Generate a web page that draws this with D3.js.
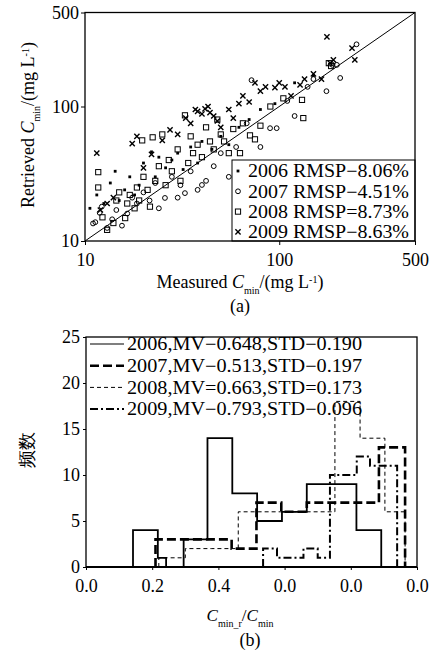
<!DOCTYPE html>
<html>
<head>
<meta charset="utf-8">
<script src="https://cdnjs.cloudflare.com/ajax/libs/d3/7.8.5/d3.min.js"></script>
<style>
body{margin:0;background:#fff;}
text{font-family:"Liberation Serif","Times New Roman",serif;fill:#000;}
</style>
</head>
<body>
<script>
// (a) scatter, [measured, retrieved] mg/L
var pts2006 = [[10.6,17.5],[11.5,22],[12.5,19],[13.5,27],[14.3,33],[15,20],[16,24],[17,30],[18,22],[19,26],
	[20,38],[22,46],[24,42],[23,30],[26,35],[28,40],[30,45],[32,34],[35,50],[38,38],[40,55],[45,48],
	[50,60],[55,52],[62,70],[70,80],[80,95],[95,105],[120,150],[150,170]];
var pts2007 = [[11,13.5],[11.3,13.8],[11.9,16.2],[12.2,18],[13,12.5],[13.8,14.5],[14.5,17],[15.5,13],[16.5,16],
	[17.5,21],[18.5,19],[20,23],[21.5,20],[23,27],[24,17.5],[25.8,20.9],[28,30],[30,21],[31,26],[32.7,22.7],
	[35,33],[38,24],[40,26.1],[42,28],[46,36],[50,45],[55,30],[60,50],[68,75],[72,157],[80,50],[89.7,69],
	[97,69],[110,110],[120,85],[140,140],[150,160],[188,204],[198,204],[206,163],[175,130],[250,290]];
var pts2008 = [[11.7,25],[11.7,32.5],[12.3,15],[13,12.1],[14,13.6],[14.5,20],[15,23],[16.1,14.8],[16.5,19],
	[17,22],[18,17.5],[18.5,25],[19,20],[19.7,56],[20,30],[21,24],[21.6,18],[22.3,59],[23,28],[24,36],
	[25,62],[26,26],[27,40],[28,33],[30,48],[31,28],[32.7,86],[34,38],[35,60],[36,45],[38,52],[40,42],
	[42,70],[44,55],[46,48],[48,80],[50,62],[52,55],[55,45],[58,68],[62.8,45],[65,75],[70.7,61],[75,57],
	[80,72],[90,100],[105,115],[131,112],[133,82],[180,210],[185,200]];
var pts2009 = [[11.5,45],[12,17],[13,19],[14,21],[17.5,53],[18.5,60],[20,35],[22,44],[25,56],[27.4,67],
	[30,62],[33,82],[35,75],[37,95],[38,92],[40,88],[41.5,96],[43,100],[44,90],[46,85],[48,78],[50,70],
	[55,95],[58,82],[62,105],[65,120],[70,108],[75,150],[80,130],[85,140],[95,138],[100,150],[107,140],
	[115,120],[128,145],[135,160],[150,175],[165,160],[176,329],[183,210],[190,222],[237,272],[245,222]];

// (b) histograms: bin edges and counts
var edges2006 = [0.142,0.217,0.242,0.295,0.367,0.442,0.517,0.592,0.667,0.742,0.817,0.892];
var counts2006 = [4,1,0,3,14,8,5,6,9,9,4];
var edges2007 = [0.21,0.29,0.365,0.44,0.515,0.59,0.667,0.737,0.81,0.885,0.964];
var counts2007 = [3,3,3,2,7,6,7,7,7,13];
var edges2008 = [0.22,0.30,0.38,0.46,0.52,0.59,0.667,0.752,0.828,0.903,0.964];
var counts2008 = [1,2,2,6,6,6,6,18,14,6];
var edges2009 = [0.535,0.577,0.657,0.70,0.737,0.818,0.858,0.94];
var counts2009 = [2,1,2,1,10,12,11];

var scatterTicks = [10,100,500];
var histTicks = [0,0.2,0.4,0.6,0.8,1.0];
var histTickLabels = ["0.0","0.2","0.4","0.0","0.0","0.0"];
var countTicks = [0,5,10,15,20,25];
var legendA = ["2006 RMSP\u22128.06%","2007 RMSP\u22124.51%","2008 RMSP=8.73%","2009 RMSP\u22128.63%"];
var legendB = ["2006,MV\u22120.648,STD\u22120.190","2007,MV\u22120.513,STD\u22120.197",
	"2008,MV=0.663,STD=0.173","2009,MV\u22120.793,STD\u22120.096"];

var w = 432;
var h = 650;

var svg = d3.select("body")
			.append("svg")
			.attr("width",w)
			.attr("height",h);

// ---------- (a) ----------
var xA = d3.scaleLog().domain([10,500]).range([85,415]);
var yA = d3.scaleLog().domain([10,500]).range([241,12.5]);

function styleAxis(g){
	g.attr("font-family",null).attr("font-size",18);
	g.selectAll("text").attr("fill","#000");
	g.selectAll("line").attr("stroke","#000");
	g.select(".domain").remove();
}

svg.append("g")
	.attr("transform","translate(0,241)")
	.call(d3.axisBottom(xA).tickValues(scatterTicks).tickFormat(d3.format("d")).tickSize(4).tickPadding(8))
	.call(styleAxis);

svg.append("g")
	.attr("transform","translate(85,0)")
	.call(d3.axisLeft(yA).tickValues(scatterTicks).tickFormat(d3.format("d")).tickSize(4).tickPadding(2))
	.call(styleAxis);

svg.append("line")
	.attr("x1",xA(10)).attr("y1",yA(10))
	.attr("x2",xA(500)).attr("y2",yA(500))
	.attr("stroke","black")
	.attr("stroke-width",1);

function marker(g, type){
	if(type=="dot"){
		g.append("rect").attr("x",-1.4).attr("y",-1.4).attr("width",2.8).attr("height",2.8).attr("fill","black");
	} else if(type=="circle"){
		g.append("circle").attr("r",2.4).attr("fill","none").attr("stroke","black").attr("stroke-width",1);
	} else if(type=="square"){
		g.append("rect").attr("x",-2.6).attr("y",-2.6).attr("width",5.2).attr("height",5.2)
			.attr("fill","none").attr("stroke","black").attr("stroke-width",1);
	} else {
		g.append("path").attr("d","M-2.6,-2.6L2.6,2.6M-2.6,2.6L2.6,-2.6")
			.attr("stroke","black").attr("stroke-width",1.4);
	}
}

var scatterSeries = [
	{data:pts2008, type:"square"},
	{data:pts2007, type:"circle"},
	{data:pts2009, type:"cross"},
	{data:pts2006, type:"dot"}
];

scatterSeries.forEach(function(s){
	s.data.forEach(function(d){
		var g = svg.append("g").attr("transform","translate("+xA(d[0])+","+yA(d[1])+")");
		marker(g, s.type);
	});
});

// legend (a)
svg.append("rect")
	.attr("x",232).attr("y",160)
	.attr("width",415-232).attr("height",241-160)
	.attr("fill","white")
	.attr("stroke","black")
	.attr("stroke-width",1);

var legTypes = ["dot","circle","square","cross"];
legendA.forEach(function(t,i){
	var y = 171 + i*20.3;
	marker(svg.append("g").attr("transform","translate(238,"+y+")"), legTypes[i]);
	svg.append("text")
		.attr("x",248).attr("y",y)
		.attr("dy","0.35em")
		.attr("font-size",18)
		.attr("textLength",161)
		.attr("lengthAdjust","spacingAndGlyphs")
		.text(t);
});

svg.append("rect")
	.attr("x",85).attr("y",12.5)
	.attr("width",330).attr("height",241-12.5)
	.attr("fill","none")
	.attr("stroke","black")
	.attr("stroke-width",1.3);

var xTitleA = svg.append("text")
	.attr("x",240).attr("y",282)
	.attr("dy","0.35em")
	.attr("text-anchor","middle")
	.attr("font-size",18);
xTitleA.append("tspan").text("Measured ");
xTitleA.append("tspan").attr("font-style","italic").text("C");
xTitleA.append("tspan").attr("font-size",10).attr("baseline-shift","sub").text("min");
xTitleA.append("tspan").text("/(mg L");
xTitleA.append("tspan").attr("font-size",10).attr("baseline-shift","super").text("-1");
xTitleA.append("tspan").text(")");

svg.append("text")
	.attr("x",240).attr("y",306)
	.attr("dy","0.35em")
	.attr("text-anchor","middle")
	.attr("font-size",18)
	.text("(a)");

var yTitleA = svg.append("text")
	.attr("transform","translate(28,125) rotate(-90)")
	.attr("dy","0.35em")
	.attr("text-anchor","middle")
	.attr("font-size",18);
yTitleA.append("tspan").text("Retrieved ");
yTitleA.append("tspan").attr("font-style","italic").text("C");
yTitleA.append("tspan").attr("font-size",10).attr("baseline-shift","sub").text("min");
yTitleA.append("tspan").text("/(mg L");
yTitleA.append("tspan").attr("font-size",10).attr("baseline-shift","super").text("-1");
yTitleA.append("tspan").text(")");

// ---------- (b) ----------
var xB = d3.scaleLinear().domain([0,1]).range([86,417]);
var yB = d3.scaleLinear().domain([0,25]).range([567,337]);

svg.append("g")
	.attr("transform","translate(0,567)")
	.call(d3.axisBottom(xB).tickValues(histTicks)
		.tickFormat(function(d,i){return histTickLabels[i];}).tickSize(3).tickPadding(9))
	.call(styleAxis);

svg.append("g")
	.attr("transform","translate(86,0)")
	.call(d3.axisLeft(yB).tickValues(countTicks).tickSize(3).tickPadding(3))
	.call(styleAxis);

function stepPoints(edges, counts){
	var p = [[edges[0],0]];
	counts.forEach(function(c,i){
		p.push([edges[i],c]);
		p.push([edges[i+1],c]);
	});
	p.push([edges[edges.length-1],0]);
	return p;
}

var line = d3.line()
	.x(function(d){return xB(d[0]);})
	.y(function(d){return yB(d[1]);});

var histSeries = [
	{edges:edges2008, counts:counts2008, width:1, dash:"4,3"},
	{edges:edges2009, counts:counts2009, width:2, dash:"8,3,2,3"},
	{edges:edges2007, counts:counts2007, width:2.6, dash:"9,4"},
	{edges:edges2006, counts:counts2006, width:1.8, dash:null}
];

histSeries.forEach(function(s){
	svg.append("path")
		.datum(stepPoints(s.edges, s.counts))
		.attr("d", line)
		.attr("fill","none")
		.attr("stroke","black")
		.attr("stroke-width",s.width)
		.attr("stroke-dasharray",s.dash);
});

svg.append("rect")
	.attr("x",86).attr("y",337)
	.attr("width",331).attr("height",230)
	.attr("fill","none")
	.attr("stroke","black")
	.attr("stroke-width",1.3);

svg.append("line")
	.attr("x1",86).attr("x2",417)
	.attr("y1",567).attr("y2",567)
	.attr("stroke","black")
	.attr("stroke-width",2.2);

// legend (b)
var legStyles = [
	{width:1.2, dash:null},
	{width:2.6, dash:"9,4"},
	{width:1, dash:"4,3"},
	{width:2, dash:"8,3,2,3"}
];
legendB.forEach(function(t,i){
	var y = 344 + i*21.7;
	svg.append("line")
		.attr("x1",90).attr("x2",124)
		.attr("y1",y).attr("y2",y)
		.attr("stroke","black")
		.attr("stroke-width",legStyles[i].width)
		.attr("stroke-dasharray",legStyles[i].dash);
	svg.append("text")
		.attr("x",127).attr("y",y)
		.attr("dy","0.35em")
		.attr("font-size",18)
		.attr("textLength",235)
		.attr("lengthAdjust","spacingAndGlyphs")
		.text(t);
});

svg.append("text")
	.attr("transform","translate(27,450) rotate(-90)")
	.attr("dy","0.35em")
	.attr("text-anchor","middle")
	.attr("font-family","Noto Sans CJK SC")
	.attr("font-size",18)
	.text("频数");

var xTitleB = svg.append("text")
	.attr("x",240).attr("y",615)
	.attr("dy","0.35em")
	.attr("text-anchor","middle")
	.attr("font-size",17);
xTitleB.append("tspan").attr("font-style","italic").text("C");
xTitleB.append("tspan").attr("font-size",10).attr("baseline-shift","sub").text("min_r");
xTitleB.append("tspan").text("/");
xTitleB.append("tspan").attr("font-style","italic").text("C");
xTitleB.append("tspan").attr("font-size",10).attr("baseline-shift","sub").text("min");

svg.append("text")
	.attr("x",250).attr("y",640)
	.attr("dy","0.35em")
	.attr("text-anchor","middle")
	.attr("font-size",18)
	.text("(b)");
</script>
</body>
</html>
